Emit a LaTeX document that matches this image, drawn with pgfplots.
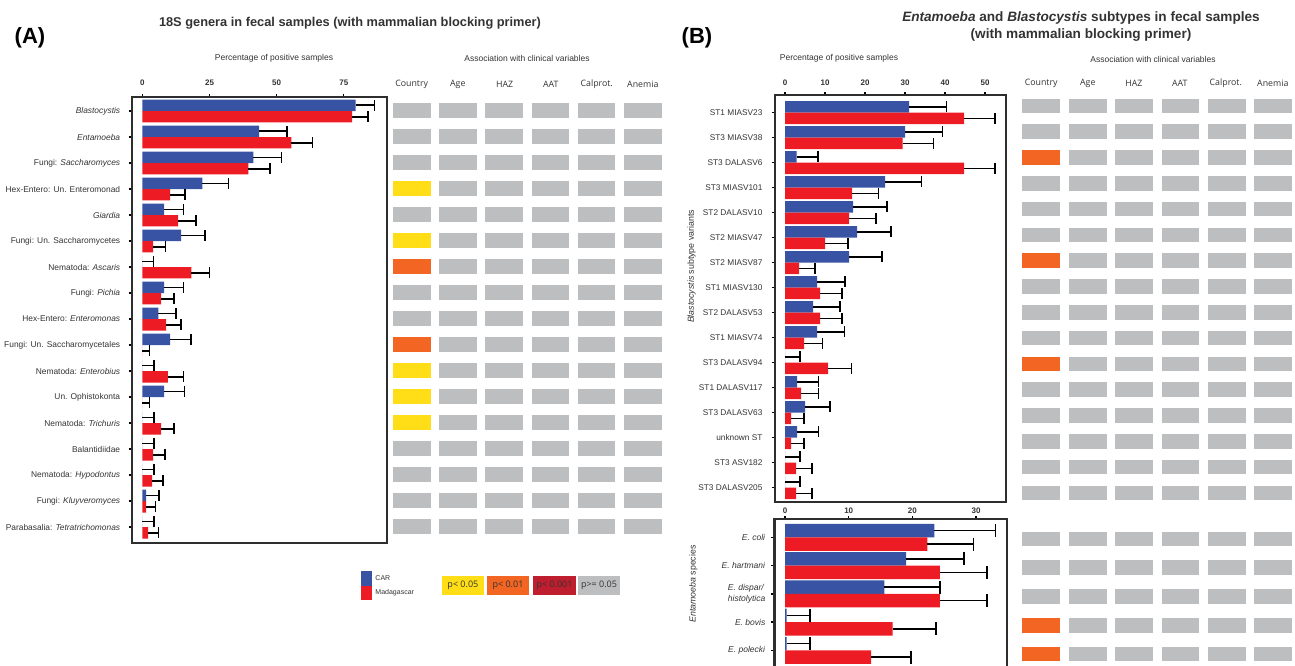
\documentclass[border=0pt]{standalone}
\usepackage{fontspec}
\setmainfont{Liberation Sans}
\newfontfamily\segoe{Open Sans}
\usepackage{pgfplots}
\usepackage{pgfplotstable}
\pgfplotsset{compat=1.18}
\definecolor{cblue}{HTML}{3953A4}
\definecolor{cred}{HTML}{ED1C24}
\definecolor{hgray}{HTML}{BCBEC0}
\definecolor{hyel}{HTML}{FFDE17}
\definecolor{hora}{HTML}{F26522}
\definecolor{hdred}{HTML}{BE1E2D}
\definecolor{framec}{HTML}{2E2E2E}
\definecolor{txt}{HTML}{333333}
\pgfdeclareplotmark{cellA}{\pgfpathrectangle{\pgfpoint{-18.85pt}{-7.1pt}}{\pgfpoint{37.7pt}{14.2pt}}\pgfusepathqfill}
\pgfdeclareplotmark{cellB}{\pgfpathrectangle{\pgfpoint{-18.85pt}{-7.3pt}}{\pgfpoint{37.7pt}{14.6pt}}\pgfusepathqfill}

% panel A: i, CAR value, CAR error end, Madagascar value, Madagascar error end
\pgfplotstableread{
i b be r re
1 79.4 86.5 78.1 84.1
2 43.5 53.9 55.5 63.3
3 41.3 51.8 39.5 47.6
4 22.3 32.1 10.3 15.9
5 8.1 15.3 13.3 20.0
6 14.4 23.4 4.0 8.6
7 0 4.1 18.2 25.0
8 8.1 15.3 7.0 11.8
9 5.9 12.6 8.8 14.4
10 10.3 18.1 0 2.6
11 0 4.4 9.5 15.3
12 8.1 15.6 0 2.6
13 0 4.4 7.0 11.8
14 0 4.4 4.0 8.4
15 0 4.4 3.6 7.7
16 1.4 6.2 1.4 4.9
17 0 4.4 2.1 6.0
}\dataA
\pgfplotstableread{
i b be r re
1 31.0 40.4 44.75 52.5
2 30.0 39.4 29.4 37.1
3 2.9 8.3 44.75 52.5
4 25.0 34.1 16.75 23.4
5 17.0 25.5 16.0 22.7
6 18.0 26.5 10.0 15.75
7 16.0 24.25 3.5 7.5
8 8.0 15.0 8.75 14.25
9 7.0 13.75 8.75 14.25
10 8.0 14.9 4.75 9.4
11 0 3.75 10.75 16.6
12 3.0 8.4 4.0 8.4
13 5.0 11.25 1.5 4.8
14 3.0 8.4 1.5 4.8
15 0 3.75 2.75 6.75
16 0 3.75 2.75 6.75
}\dataB
\pgfplotstableread{
i b be r re
1 23.45 33.07 22.35 29.6
2 19.0 28.1 24.3 31.7
3 15.6 24.3 24.3 31.7
4 0.25 3.9 16.9 23.7
5 0.25 3.9 13.5 19.8
}\dataC

\pgfplotsset{
  barax/.style={scale only axis, anchor=north west, y dir=reverse,
    axis line style={line width=2.4pt, draw=framec},
    xtick pos=right, xticklabel pos=right, ytick pos=left,
    tick align=outside, major tick length=3pt,
    tick style={line width=1.4pt, black},
    /pgf/number format/assume math mode=true,
    xticklabel style={font=\fontsize{8}{9}\selectfont\bfseries, text=txt},
    yticklabel style={font=\fontsize{8.4}{10}\selectfont, text=txt},
    clip=false},
  heatax/.style={scale only axis, anchor=north west, y dir=reverse, hide axis,
    clip=false, xmin=0.5, xmax=6.5},
  errA/.style={error bars/.cd, x dir=plus, x explicit, error mark=|,
    error bar style={line width=1.6pt, black},
    error mark options={line width=1.6pt, black, mark size=#1}},
}

\begin{document}
\begin{tikzpicture}
\path[use as bounding box] (0pt,0pt) rectangle (1295pt,-666pt);

% ---------------- Panel A bars
\begin{axis}[barax, at={(131.7pt,-96.7pt)}, width=255pt, height=446pt,
  xmin=-4, xmax=91, ymin=0.45, ymax=17.6,
  xtick={0,25,50,75}, ytick={1,...,17},
  xticklabel style={yshift=5pt}, yticklabel style={xshift=-5pt},
  yticklabels={\textit{Blastocystis}, \textit{Entamoeba}, Fungi: \textit{Saccharomyces}, Hex-Entero: Un. Enteromonad, \textit{Giardia}, Fungi: Un. Saccharomycetes, Nematoda: \textit{Ascaris}, Fungi: \textit{Pichia}, Hex-Entero: \textit{Enteromonas}, Fungi: Un. Saccharomycetales, Nematoda: \textit{Enterobius}, Un. Ophistokonta, Nematoda: \textit{Trichuris}, Balantidiidae, Nematoda: \textit{Hypodontus}, Fungi: \textit{Kluyveromyces}, Parabasalia: \textit{Tetratrichomonas}},
  legend style={at={(0.898,-0.0635)}, anchor=north west, draw=none, fill=none,
    inner sep=0pt, row sep=0pt, column sep=3pt,
    font=\fontsize{7}{8}\selectfont, text=txt, nodes={inner sep=0.3pt}},
  legend cell align=left]
\addplot[xbar, bar shift=0pt, bar width=0.44, fill=cblue, draw=none,
  legend image code/.code={\fill[cblue] (0pt,-7.2pt) rectangle (11.3pt,7.2pt);},
  errA=5.5pt]
  table[y expr=\thisrow{i}-0.22, x=b, x error expr=\thisrow{be}-\thisrow{b}] {\dataA};
\addlegendentry{CAR}
\addplot[xbar, bar shift=0pt, bar width=0.44, fill=cred, draw=none,
  legend image code/.code={\fill[cred] (0pt,-7.2pt) rectangle (11.3pt,7.2pt);},
  errA=5.5pt]
  table[y expr=\thisrow{i}+0.22, x=r, x error expr=\thisrow{re}-\thisrow{r}] {\dataA};
\addlegendentry{Madagascar}
\end{axis}

% ---------------- Panel A heatmap
\begin{axis}[heatax, at={(388.6pt,-97.5pt)}, width=277.3pt, height=442pt,
  ymin=0.5, ymax=17.5]
\addplot[scatter, only marks, scatter src=explicit symbolic,
  scatter/classes={g={mark=cellA, hgray}, y={mark=cellA, hyel}, o={mark=cellA, hora}, r={mark=cellA, hdred}}]
 coordinates {
 (1,1)[g] (2,1)[g] (3,1)[g] (4,1)[g] (5,1)[g] (6,1)[g]
 (1,2)[g] (2,2)[g] (3,2)[g] (4,2)[g] (5,2)[g] (6,2)[g]
 (1,3)[g] (2,3)[g] (3,3)[g] (4,3)[g] (5,3)[g] (6,3)[g]
 (1,4)[y] (2,4)[g] (3,4)[g] (4,4)[g] (5,4)[g] (6,4)[g]
 (1,5)[g] (2,5)[g] (3,5)[g] (4,5)[g] (5,5)[g] (6,5)[g]
 (1,6)[y] (2,6)[g] (3,6)[g] (4,6)[g] (5,6)[g] (6,6)[g]
 (1,7)[o] (2,7)[g] (3,7)[g] (4,7)[g] (5,7)[g] (6,7)[g]
 (1,8)[g] (2,8)[g] (3,8)[g] (4,8)[g] (5,8)[g] (6,8)[g]
 (1,9)[g] (2,9)[g] (3,9)[g] (4,9)[g] (5,9)[g] (6,9)[g]
 (1,10)[o] (2,10)[g] (3,10)[g] (4,10)[g] (5,10)[g] (6,10)[g]
 (1,11)[y] (2,11)[g] (3,11)[g] (4,11)[g] (5,11)[g] (6,11)[g]
 (1,12)[y] (2,12)[g] (3,12)[g] (4,12)[g] (5,12)[g] (6,12)[g]
 (1,13)[y] (2,13)[g] (3,13)[g] (4,13)[g] (5,13)[g] (6,13)[g]
 (1,14)[g] (2,14)[g] (3,14)[g] (4,14)[g] (5,14)[g] (6,14)[g]
 (1,15)[g] (2,15)[g] (3,15)[g] (4,15)[g] (5,15)[g] (6,15)[g]
 (1,16)[g] (2,16)[g] (3,16)[g] (4,16)[g] (5,16)[g] (6,16)[g]
 (1,17)[g] (2,17)[g] (3,17)[g] (4,17)[g] (5,17)[g] (6,17)[g]
 };
\end{axis}

% ---------------- Panel B bars (Blastocystis)
\begin{axis}[barax, at={(775pt,-95pt)}, width=231pt, height=406.7pt,
  xmin=-2.5, xmax=55.25, ymin=0.292, ymax=16.56,
  xtick={0,10,...,50}, ytick={1,...,16},
  xticklabel style={yshift=3pt}, yticklabel style={xshift=-6pt, font=\fontsize{8.3}{10}\selectfont},
  yticklabels={ST1 MIASV23, ST3 MIASV38, ST3 DALASV6, ST3 MIASV101, ST2 DALASV10, ST2 MIASV47, ST2 MIASV87, ST1 MIASV130, ST2 DALASV53, ST1 MIASV74, ST3 DALASV94, ST1 DALASV117, ST3 DALASV63, unknown ST, ST3 ASV182, ST3 DALASV205}]
\addplot[xbar, bar shift=0pt, bar width=0.46, fill=cblue, draw=none, errA=5.5pt]
  table[y expr=\thisrow{i}-0.23, x=b, x error expr=\thisrow{be}-\thisrow{b}] {\dataB};
\addplot[xbar, bar shift=0pt, bar width=0.46, fill=cred, draw=none, errA=5.5pt]
  table[y expr=\thisrow{i}+0.23, x=r, x error expr=\thisrow{re}-\thisrow{r}] {\dataB};
\end{axis}

% ---------------- Panel B bars (Entamoeba)
\begin{axis}[barax, at={(774.3pt,-519pt)}, width=232.4pt, height=161pt,
  xmin=-1.68, xmax=34.8, ymin=0.352, ymax=6.051,
  xtick={0,10,20,30}, ytick={1,...,5},
  xticklabel style={yshift=-1.3pt}, yticklabel style={xshift=-2.5pt, align=left, font=\fontsize{8.5}{11}\selectfont},
  yticklabels={\textit{E. coli}, \textit{E. hartmani}, {\textit{E. dispar/}\\\textit{histolytica}}, \textit{E. bovis}, \textit{E. polecki}}]
\addplot[xbar, bar shift=0pt, bar width=0.478, fill=cblue, draw=none, errA=6.5pt]
  table[y expr=\thisrow{i}-0.239, x=b, x error expr=\thisrow{be}-\thisrow{b}] {\dataC};
\addplot[xbar, bar shift=0pt, bar width=0.478, fill=cred, draw=none, errA=6.5pt]
  table[y expr=\thisrow{i}+0.239, x=r, x error expr=\thisrow{re}-\thisrow{r}] {\dataC};
\end{axis}

% ---------------- Panel B heatmap (top)
\begin{axis}[heatax, at={(1018.05pt,-92.9pt)}, width=278.45pt, height=412.8pt,
  ymin=0.5, ymax=16.5]
\addplot[scatter, only marks, scatter src=explicit symbolic,
  scatter/classes={g={mark=cellB, hgray}, y={mark=cellB, hyel}, o={mark=cellB, hora}, r={mark=cellB, hdred}}]
 coordinates {
 (1,1)[g] (2,1)[g] (3,1)[g] (4,1)[g] (5,1)[g] (6,1)[g]
 (1,2)[g] (2,2)[g] (3,2)[g] (4,2)[g] (5,2)[g] (6,2)[g]
 (1,3)[o] (2,3)[g] (3,3)[g] (4,3)[g] (5,3)[g] (6,3)[g]
 (1,4)[g] (2,4)[g] (3,4)[g] (4,4)[g] (5,4)[g] (6,4)[g]
 (1,5)[g] (2,5)[g] (3,5)[g] (4,5)[g] (5,5)[g] (6,5)[g]
 (1,6)[g] (2,6)[g] (3,6)[g] (4,6)[g] (5,6)[g] (6,6)[g]
 (1,7)[o] (2,7)[g] (3,7)[g] (4,7)[g] (5,7)[g] (6,7)[g]
 (1,8)[g] (2,8)[g] (3,8)[g] (4,8)[g] (5,8)[g] (6,8)[g]
 (1,9)[g] (2,9)[g] (3,9)[g] (4,9)[g] (5,9)[g] (6,9)[g]
 (1,10)[g] (2,10)[g] (3,10)[g] (4,10)[g] (5,10)[g] (6,10)[g]
 (1,11)[o] (2,11)[g] (3,11)[g] (4,11)[g] (5,11)[g] (6,11)[g]
 (1,12)[g] (2,12)[g] (3,12)[g] (4,12)[g] (5,12)[g] (6,12)[g]
 (1,13)[g] (2,13)[g] (3,13)[g] (4,13)[g] (5,13)[g] (6,13)[g]
 (1,14)[g] (2,14)[g] (3,14)[g] (4,14)[g] (5,14)[g] (6,14)[g]
 (1,15)[g] (2,15)[g] (3,15)[g] (4,15)[g] (5,15)[g] (6,15)[g]
 (1,16)[g] (2,16)[g] (3,16)[g] (4,16)[g] (5,16)[g] (6,16)[g]
 };
\end{axis}

% ---------------- Panel B heatmap (bottom)
\begin{axis}[heatax, at={(1018.05pt,-524.6pt)}, width=278.45pt, height=143.75pt,
  ymin=0.5, ymax=5.5]
\addplot[scatter, only marks, scatter src=explicit symbolic,
  scatter/classes={g={mark=cellB, hgray}, y={mark=cellB, hyel}, o={mark=cellB, hora}, r={mark=cellB, hdred}}]
 coordinates {
 (1,1)[g] (2,1)[g] (3,1)[g] (4,1)[g] (5,1)[g] (6,1)[g]
 (1,2)[g] (2,2)[g] (3,2)[g] (4,2)[g] (5,2)[g] (6,2)[g]
 (1,3)[g] (2,3)[g] (3,3)[g] (4,3)[g] (5,3)[g] (6,3)[g]
 (1,4)[o] (2,4)[g] (3,4)[g] (4,4)[g] (5,4)[g] (6,4)[g]
 (1,5)[o] (2,5)[g] (3,5)[g] (4,5)[g] (5,5)[g] (6,5)[g]
 };
\end{axis}

% ---------------- Texts
\node[font=\fontsize{22}{26}\selectfont\bfseries] at (30pt,-38pt) {(A)};
\node[font=\fontsize{22}{26}\selectfont\bfseries] at (697pt,-38pt) {(B)};
\node[font=\fontsize{12.8}{15}\selectfont\bfseries, text=txt] at (350pt,-23pt) {18S genera in fecal samples (with mammalian blocking primer)};
\node[font=\fontsize{13.6}{17}\selectfont\bfseries, text=txt, align=center] at (1081pt,-26.5pt) {\textit{Entamoeba} and \textit{Blastocystis} subtypes in fecal samples\\(with mammalian blocking primer)};
\node[font=\fontsize{8.5}{10}\selectfont, text=txt] at (274pt,-58pt) {Percentage of positive samples};
\node[font=\fontsize{8.5}{10}\selectfont, text=txt] at (839pt,-58pt) {Percentage of positive samples};
\node[font=\fontsize{8.5}{10}\selectfont, text=txt] at (527pt,-58pt) {Association with clinical variables};
\node[font=\fontsize{8.5}{10}\selectfont, text=txt] at (1153pt,-59pt) {Association with clinical variables};
\foreach \xx/\lab in {411.7/Country, 457.8/Age, 504.7/HAZ, 550.7/AAT, 596.7/Calprot., 642.8/Anemia}
  \node[font=\segoe\fontsize{8.8}{10}\selectfont, text=txt] at (\xx pt,-84pt) {\lab};
\foreach \xx/\lab in {1041.2/Country, 1087.8/Age, 1133.8/HAZ, 1179.7/AAT, 1225.8/Calprot., 1272.8/Anemia}
  \node[font=\segoe\fontsize{8.8}{10}\selectfont, text=txt] at (\xx pt,-83.3pt) {\lab};
\node[rotate=90, font=\fontsize{8.8}{10}\selectfont, text=txt] at (691.7pt,-266.5pt) {\textit{Blastocystis} subtype variants};
\node[rotate=90, font=\fontsize{8.8}{10}\selectfont, text=txt] at (693.3pt,-584pt) {\textit{Entamoeba} species};
% p-value key
\node[fill=hyel, minimum width=42.3pt, minimum height=19.3pt, inner sep=0pt, font=\segoe\fontsize{9}{10}\selectfont, text=txt] at (462.9pt,-585.4pt) {p< 0.05};
\node[fill=hora, minimum width=42pt, minimum height=19.3pt, inner sep=0pt, font=\segoe\fontsize{9}{10}\selectfont, text=txt] at (508pt,-585.4pt) {p< 0.01};
\node[fill=hdred, minimum width=42.4pt, minimum height=19.3pt, inner sep=0pt, font=\segoe\fontsize{9}{10}\selectfont, text=txt] at (554.5pt,-585.4pt) {p< 0.001};
\node[fill=hgray, minimum width=42pt, minimum height=19.3pt, inner sep=0pt, font=\segoe\fontsize{9}{10}\selectfont, text=txt] at (599pt,-585.4pt) {p>= 0.05};
\end{tikzpicture}
\end{document}
